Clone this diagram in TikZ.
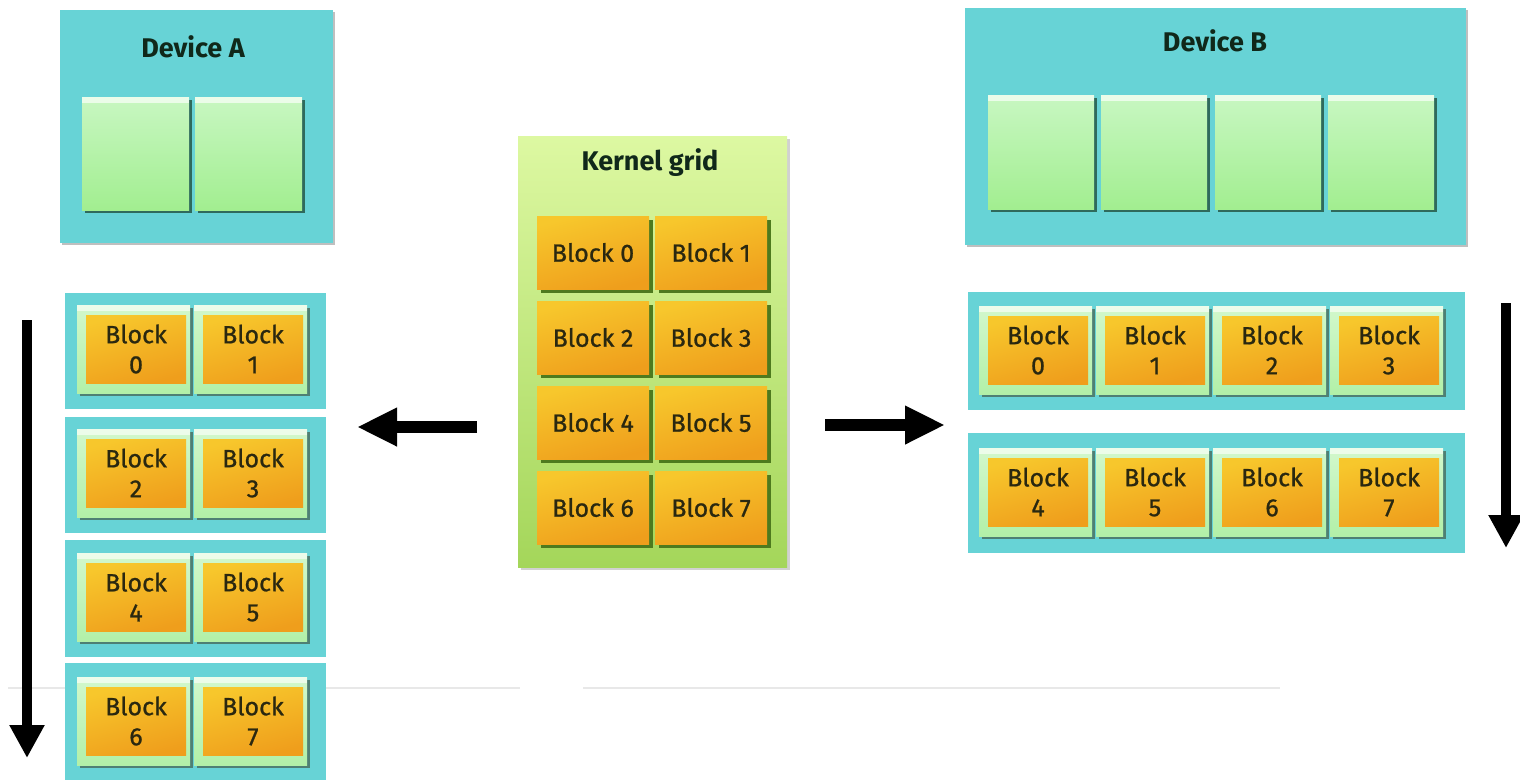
\documentclass[tikz,border=0pt]{standalone}
\usepackage{fontspec}
\setmainfont{Fira Sans}
\newfontfamily\blockfont{Fira Sans}[FakeBold=0.9]
\usetikzlibrary{arrows.meta,shadows}

\definecolor{devcyan}{HTML}{67D3D6}
\definecolor{cellhi}{HTML}{C8F7C2}
\definecolor{celllo}{HTML}{A2EE90}
\definecolor{cellshade}{HTML}{2F6A5C}
\definecolor{bevelhi}{HTML}{D2F8CC}
\definecolor{bevello}{HTML}{B2F0A8}
\definecolor{gridtop}{HTML}{DDF8A2}
\definecolor{gridbot}{HTML}{A4D65A}
\definecolor{orgtop}{HTML}{F7C72C}
\definecolor{orgbot}{HTML}{EF9E1C}
\definecolor{blkshade}{HTML}{4E7A1E}
\definecolor{inktext}{HTML}{2A2810}
\definecolor{titleink}{HTML}{10281A}
\definecolor{faintrule}{HTML}{E8E8E8}

\tikzset{
  base/.style={anchor=north west, inner sep=0pt, outer sep=0pt},
  device/.style={base, fill=devcyan,
    general shadow={fill=black, opacity=.25, shadow xshift=1.5pt, shadow yshift=-1.5pt}},
  gridpanel/.style={base, top color=gridtop, bottom color=gridbot,
    general shadow={fill=black, opacity=.18, shadow xshift=3pt, shadow yshift=-3pt}},
  strip/.style={base, fill=devcyan},
  highlight/.style={path picture={\fill[white, opacity=#1]
      (path picture bounding box.north west) rectangle
      ([yshift=-6pt]path picture bounding box.north east);}},
  cellsq/.style={base, top color=cellhi, bottom color=celllo, highlight=.65,
    general shadow={fill=cellshade, shadow xshift=3pt, shadow yshift=-3pt}},
  bevelbox/.style={base, top color=bevelhi, bottom color=bevello, highlight=.6,
    general shadow={fill=cellshade!85, shadow xshift=2.5pt, shadow yshift=-2.5pt}},
  kblock/.style={base, top color=orgtop, bottom color=orgbot, shading angle=15,
    general shadow={fill=blkshade, shadow xshift=3.5pt, shadow yshift=-3.5pt},
    text=inktext, font=\blockfont\fontsize{25}{28}\selectfont},
  sblock/.style={base, top color=orgtop, bottom color=orgbot, shading angle=15,
    align=center, text=inktext, font=\blockfont\fontsize{25}{30}\selectfont},
  title/.style={text=titleink, font=\bfseries\fontsize{27}{30}\selectfont},
  fatarrow/.style={line width=12pt, -{Triangle[length=40pt,width=36pt]}},
  seqarrow/.style={line width=10pt, -{Triangle[length=33pt,width=33pt]}},
}

% one block of a device row: a bevelled frame with an orange block inside
\newcommand\rowblock[5]{% name, x, y, first line, second line
  \node[bevelbox, minimum width=113pt, minimum height=88pt] (#1f) at (#2,#3) {};
  \node[sblock, minimum width=100pt, minimum height=68pt] (#1) at (#2+9,#3+10) {#4\\#5};
}

\begin{document}
\begin{tikzpicture}[x=1pt,y=-1pt]
  \fill[white] (0,0) rectangle (1520,780);
  \useasboundingbox (0,0) rectangle (1520,780);

  % faint horizontal rules in the background
  \draw[faintrule, line width=1.5pt] (8,688) -- (520,688);
  \draw[faintrule, line width=1.5pt] (583,688) -- (1280,688);

  % ---- Device A ----
  \node[device, minimum width=273pt, minimum height=233pt] (devA) at (60,10) {};
  \node[title] (devAtitle) at (193,47) {Device A};
  \node[cellsq, minimum width=107pt, minimum height=113pt] (a0) at (82,97) {};
  \node[cellsq, minimum width=107pt, minimum height=113pt] (a1) at (195,97) {};

  % ---- Device B ----
  \node[device, minimum width=501pt, minimum height=237pt] (devB) at (965,8) {};
  \node[title] (devBtitle) at (1215,41) {Device B};
  \foreach \x [count=\i from 0] in {988,1101,1215,1328}
    \node[cellsq, minimum width=106pt, minimum height=114pt] (b\i) at (\x,95) {};

  % ---- Kernel grid ----
  \node[gridpanel, minimum width=269pt, minimum height=431pt] (grid) at (518,136) {};
  \node[title] (gridtitle) at (650,163) {Kernel grid};
  \foreach \y [count=\r from 0] in {216,301,386,471} {
    \pgfmathtruncatemacro\ka{2*\r}
    \pgfmathtruncatemacro\kb{2*\r+1}
    \node[kblock, minimum width=112pt, minimum height=73pt] (k\ka) at (537,\y) {Block \ka};
    \node[kblock, minimum width=112pt, minimum height=73pt] (k\kb) at (655,\y) {Block \kb};
  }

  % ---- Device A: blocks run in four waves ----
  \node[strip, minimum width=261pt, minimum height=116pt] (lrow1) at (65,293) {};
  \node[strip, minimum width=261pt, minimum height=116pt] (lrow2) at (65,417) {};
  \node[strip, minimum width=261pt, minimum height=117pt] (lrow3) at (65,540) {};
  \node[strip, minimum width=261pt, minimum height=117pt] (lrow4) at (65,663) {};
  \rowblock{la0}{77}{305}{Block}{0}
  \rowblock{la1}{194}{305}{Block}{1}
  \rowblock{la2}{77}{429}{Block}{2}
  \rowblock{la3}{194}{429}{Block}{3}
  \rowblock{la4}{77}{553}{Block}{4}
  \rowblock{la5}{194}{553}{Block}{5}
  \rowblock{la6}{77}{677}{Block}{6}
  \rowblock{la7}{194}{677}{Block}{7}

  % ---- Device B: blocks run in two waves ----
  \node[strip, minimum width=497pt, minimum height=118pt] (rrow1) at (968,292) {};
  \node[strip, minimum width=497pt, minimum height=120pt] (rrow2) at (968,433) {};
  \rowblock{rb0}{979}{306}{Block}{0}
  \rowblock{rb1}{1096}{306}{Block}{1}
  \rowblock{rb2}{1213}{306}{Block}{2}
  \rowblock{rb3}{1330}{306}{Block}{3}
  \rowblock{rb4}{979}{448}{Block}{4}
  \rowblock{rb5}{1096}{448}{Block}{5}
  \rowblock{rb6}{1213}{448}{Block}{6}
  \rowblock{rb7}{1330}{448}{Block}{7}

  % ---- arrows ----
  \coordinate (toAtail) at (477,427);
  \coordinate (toAtip)  at (357,427);
  \coordinate (toBtail) at (825,425);
  \coordinate (toBtip)  at (945,425);
  \draw[fatarrow] (toAtail) -- (toAtip);
  \draw[fatarrow] (toBtail) -- (toBtip);

  \coordinate (seqAtop) at (27,320);
  \coordinate (seqAend) at (27,758);
  \coordinate (seqBtop) at (1506,303);
  \coordinate (seqBend) at (1506,548);
  \draw[seqarrow] (seqAtop) -- (seqAend);
  \draw[seqarrow] (seqBtop) -- (seqBend);
\end{tikzpicture}
\end{document}
